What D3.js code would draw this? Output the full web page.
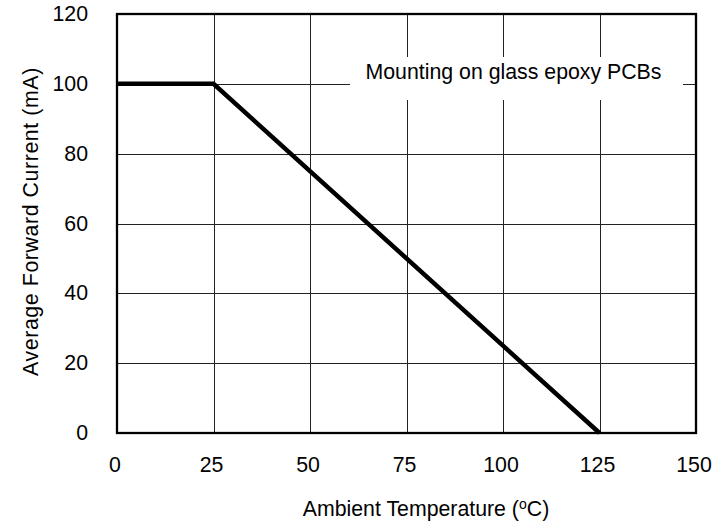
<!DOCTYPE html>
<html>
<head>
<meta charset="utf-8">
<script src="https://cdn.jsdelivr.net/npm/d3@7"></script>
<style>
  body { margin: 0; background: #fff; }
  text { font-family: Arial, "Liberation Sans", sans-serif; fill: #000; }
</style>
</head>
<body>
<div id="chart"></div>
<script>
// derating curve data
var temperature = [0, 25, 125];
var current = [100, 100, 0];
var xTicks = [0, 25, 50, 75, 100, 125, 150];
var yTicks = [0, 20, 40, 60, 80, 100, 120];
var note = "Mounting on glass epoxy PCBs";

var width = 727, height = 526;
var margin = {left: 117, right: 31, top: 14, bottom: 93};
var fs = "21.3px";

var svg = d3.select("#chart").append("svg")
    .attr("width", width)
    .attr("height", height);

var x = d3.scaleLinear().domain([0, 150]).range([margin.left, width - margin.right]);
var y = d3.scaleLinear().domain([0, 120]).range([height - margin.bottom, margin.top]);

// grid
var grid = svg.append("g").attr("stroke", "#222").attr("stroke-width", 1);
grid.selectAll(".vg").data(xTicks).enter().append("line")
    .attr("x1", function(d){ return Math.round(x(d)) + 0.5; })
    .attr("x2", function(d){ return Math.round(x(d)) + 0.5; })
    .attr("y1", y(0)).attr("y2", y(120));
grid.selectAll(".hg").data(yTicks).enter().append("line")
    .attr("y1", function(d){ return Math.round(y(d)) + 0.5; })
    .attr("y2", function(d){ return Math.round(y(d)) + 0.5; })
    .attr("x1", x(0)).attr("x2", x(150));

// note box with white background
svg.append("rect")
    .attr("x", 350).attr("y", 57)
    .attr("width", 333).attr("height", 43)
    .attr("fill", "#fff");
svg.append("text")
    .attr("x", 513.5).attr("y", 79)
    .attr("text-anchor", "middle")
    .attr("font-size", fs)
    .text(note);

// frame
svg.append("rect")
    .attr("x", x(0)).attr("y", y(120))
    .attr("width", x(150) - x(0)).attr("height", y(0) - y(120))
    .attr("fill", "none").attr("stroke", "#000").attr("stroke-width", 2.3);

// curve
var line = d3.line()
    .x(function(d, i){ return x(temperature[i]); })
    .y(function(d, i){ return y(current[i]); });
svg.append("path")
    .datum(current)
    .attr("d", line)
    .attr("fill", "none")
    .attr("stroke", "#000")
    .attr("stroke-width", 4.5);

// tick labels
svg.selectAll(".xt").data(xTicks).enter().append("text")
    .attr("x", function(d){ return x(d) - 2; })
    .attr("y", 472)
    .attr("text-anchor", "middle")
    .attr("font-size", fs)
    .text(function(d){ return d; });
svg.selectAll(".yt").data(yTicks).enter().append("text")
    .attr("x", 88)
    .attr("y", function(d){ return y(d) + 7; })
    .attr("text-anchor", "end")
    .attr("font-size", fs)
    .text(function(d){ return d; });

// axis titles
var xt = svg.append("text")
    .attr("x", 426).attr("y", 516)
    .attr("text-anchor", "middle")
    .attr("font-size", fs);
xt.append("tspan").text("Ambient Temperature (");
xt.append("tspan").attr("font-size", "14px").attr("dy", -7).text("o");
xt.append("tspan").attr("dy", 7).text("C)");

svg.append("text")
    .attr("transform", "translate(38," + ((y(0) + y(120)) / 2 - 2) + ") rotate(-90)")
    .attr("text-anchor", "middle")
    .attr("font-size", fs)
    .attr("letter-spacing", "0.6px")
    .text("Average Forward Current (mA)");
</script>
</body>
</html>
